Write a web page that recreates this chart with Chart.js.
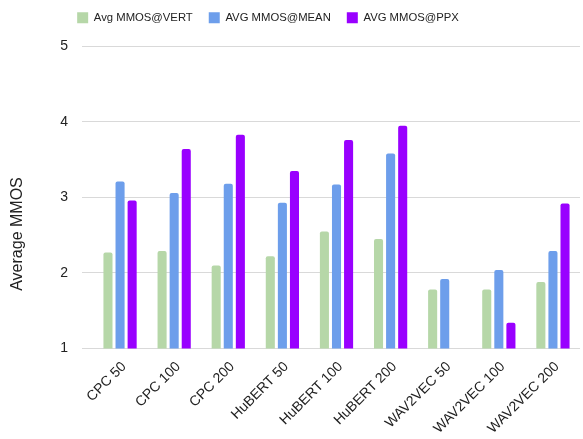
<!DOCTYPE html>
<html>
<head>
<meta charset="utf-8">
<script src="https://cdn.jsdelivr.net/npm/chart.js@4"></script>
<style>
  body { margin: 0; background: #fff; }
  #wrap { width: 583px; height: 439px; }
</style>
</head>
<body>
<div id="wrap"><canvas id="mmosChart"></canvas></div>
<script>
const categories = ["CPC 50", "CPC 100", "CPC 200", "HuBERT 50", "HuBERT 100", "HuBERT 200", "WAV2VEC 50", "WAV2VEC 100", "WAV2VEC 200"];
const vertValues = [2.27, 2.29, 2.10, 2.22, 2.55, 2.45, 1.78, 1.78, 1.88];
const meanValues = [3.21, 3.06, 3.18, 2.93, 3.17, 3.58, 1.92, 2.04, 2.29];
const ppxValues = [2.96, 3.64, 3.83, 3.35, 3.76, 3.95, null, 1.34, 2.92];
const yTicks = [1, 2, 3, 4, 5];
const yTitle = "Average MMOS";

const FONT = "'Liberation Sans', Arial, sans-serif";

// nudge the legend up/left, like the sheets export
const legendShift = {
  id: "legendShift",
  afterLayout(chart) {
    const l = chart.legend;
    l.left -= 22;
    l.right -= 22;
    l.top -= 13;
    l.bottom -= 13;
  }
};

// y title sits lower than the plot centre in the original
const yTitlePlugin = {
  id: "yTitlePlugin",
  afterDraw(chart) {
    const c = chart.ctx;
    c.save();
    c.translate(18, 234);
    c.rotate(-Math.PI / 2);
    c.font = "16px " + FONT;
    c.fillStyle = "#222";
    c.textAlign = "center";
    c.textBaseline = "middle";
    c.fillText(yTitle, 0, 0);
    c.restore();
  }
};

const ctx = document.getElementById("mmosChart").getContext("2d");
new Chart(ctx, {
  type: "bar",
  data: {
    labels: categories,
    datasets: [
      { label: "Avg MMOS@VERT", data: vertValues, backgroundColor: "#b6d7a8" },
      { label: "AVG MMOS@MEAN", data: meanValues, backgroundColor: "#6d9eeb" },
      { label: "AVG MMOS@PPX", data: ppxValues, backgroundColor: "#9900ff" }
    ]
  },
  options: {
    responsive: true,
    maintainAspectRatio: false,
    animation: false,
    layout: { padding: { top: 9, right: 3, bottom: 0, left: 0 } },
    datasets: {
      bar: {
        categoryPercentage: 0.67,
        barPercentage: 0.75,
        borderRadius: { topLeft: 2, topRight: 2 },
        borderSkipped: "bottom"
      }
    },
    plugins: {
      legend: {
        position: "top",
        labels: {
          boxWidth: 11,
          boxHeight: 11,
          padding: 16,
          color: "#222",
          font: { family: FONT, size: 11.3 }
        }
      },
      tooltip: { enabled: false }
    },
    scales: {
      x: {
        grid: { display: false },
        border: { display: false },
        ticks: {
          minRotation: 45,
          maxRotation: 45,
          autoSkip: false,
          color: "#222",
          padding: 2,
          labelOffset: 4,
          font: { family: FONT, size: 14 }
        }
      },
      y: {
        min: 1,
        max: 5,
        afterFit(scale) { scale.width = 93; },
        afterBuildTicks(scale) { scale.ticks = yTicks.map(v => ({ value: v })); },
        border: { display: false },
        grid: { color: "#d9d9d9", drawTicks: true, tickLength: 11 },
        ticks: {
          color: "#222",
          padding: 14,
          font: { family: FONT, size: 14 }
        }
      }
    }
  },
  plugins: [legendShift, yTitlePlugin]
});
</script>
</body>
</html>
